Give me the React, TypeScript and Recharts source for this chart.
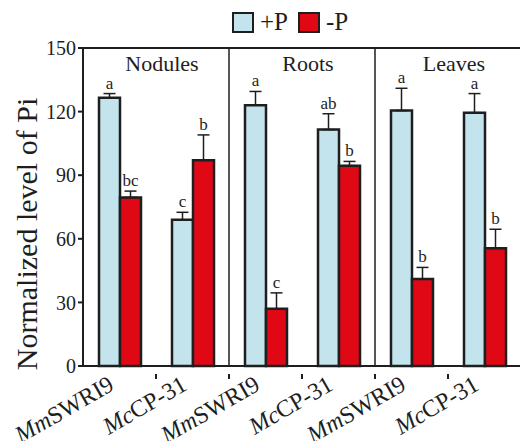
import {
  Bar,
  BarChart,
  ErrorBar,
  LabelList,
  ReferenceLine,
  XAxis,
  YAxis,
} from "recharts";

const tissues = ["Nodules", "Roots", "Leaves"];
const lines = ["MmSWRI9", "McCP-31"];
const plusP = [126.5, 69, 123, 111.5, 120.5, 119.5];
const plusPErr = [2, 3.5, 6.5, 7.5, 10.5, 9];
const minusP = [79.5, 97, 27, 94.5, 41, 55.5];
const minusPErr = [3, 12, 7.5, 2, 5.5, 9];
const plusLetters = ["a", "c", "a", "ab", "a", "a"];
const minusLetters = ["bc", "b", "c", "b", "b", "b"];
const yTicks = [0, 30, 60, 90, 120, 150];

const BLUE = "#c3e4ec";
const RED = "#e10816";
const INK = "#1e1e1e";
const FONT = "'Liberation Serif', 'Times New Roman', serif";

const keys = tissues.flatMap((t) => lines.map((l) => `${t}|${l}`));

const data = keys.map((key, i) => ({
  key,
  plus: plusP[i],
  plusErr: [0, plusPErr[i]],
  minus: minusP[i],
  minusErr: [0, minusPErr[i]],
  plusLetter: plusLetters[i],
  minusLetter: minusLetters[i],
}));

function letterRenderer(values: number[], errs: number[]) {
  return (props: any) => {
    const { x, y, width, height, value, index } = props;
    const px = Number(height) / values[index];
    const top = Number(y) - errs[index] * px;
    return (
      <text
        x={Number(x) + Number(width) / 2}
        y={top - 5}
        textAnchor="middle"
        fontSize={17}
        fontFamily={FONT}
        fill={INK}
      >
        {value}
      </text>
    );
  };
}

function CategoryTick(props: any) {
  const { x, y, payload, index, visibleTicksCount, width } = props;
  const label: string = String(payload.value).split("|")[1];
  const half = Number(width) / visibleTicksCount / 2;
  const isLast = index === visibleTicksCount - 1;
  return (
    <g>
      {!isLast && (
        <line x1={x + half} x2={x + half} y1={y} y2={y + 5} stroke={INK} strokeWidth={2} />
      )}
      <g transform={`translate(${x - 8},${y + 8}) rotate(-30)`}>
        <text textAnchor="end" fontSize={24} fontFamily={FONT} fill={INK} dy={8}>
          <tspan fontStyle="italic">{label.slice(0, 2)}</tspan>
          <tspan>{label.slice(2)}</tspan>
        </text>
      </g>
    </g>
  );
}

function LegendBox() {
  const item = (color: string, text: string) => (
    <div style={{ display: "flex", alignItems: "center", marginRight: 10 }}>
      <div style={{ width: 18, height: 17, background: color, border: `2px solid ${INK}` }} />
      <span style={{ marginLeft: 6, fontSize: 25, fontFamily: FONT, color: INK, lineHeight: "24px" }}>{text}</span>
    </div>
  );
  return (
    <div style={{ position: "absolute", left: 232, top: 10, display: "flex" }}>
      {item(BLUE, "+P")}
      {item(RED, "-P")}
    </div>
  );
}

export default function App() {
  return (
    <div style={{ position: "absolute", left: 0, top: 0, width: 520, height: 441, overflow: "hidden", background: "#fff" }}>
      <LegendBox />
      <BarChart
        width={535}
        height={441}
        data={data}
        margin={{ top: 48, right: 14, left: 0, bottom: 0 }}
        barGap={0}
        barSize={21}
      >
        <XAxis
          dataKey="key"
          axisLine={{ stroke: INK, strokeWidth: 2 }}
          tickLine={false}
          interval={0}
          tick={<CategoryTick />}
          height={75}
        />
        <YAxis
          domain={[0, 150]}
          ticks={yTicks}
          width={83}
          tickSize={5}
          tick={{ fontSize: 20, fontFamily: FONT, fill: INK }}
          tickLine={{ stroke: INK, strokeWidth: 2 }}
          axisLine={{ stroke: INK, strokeWidth: 2 }}
          label={{
            value: "Normalized level of Pi",
            angle: -90,
            position: "insideLeft",
            dx: 21,
            dy: 27,
            style: { fontSize: 30, fontFamily: FONT, fill: INK, textAnchor: "middle" },
          }}
        />
        <ReferenceLine y={150} stroke={INK} strokeWidth={2} />
        {tissues.slice(0, 2).map((t) => (
          <ReferenceLine key={t} x={`${t}|${lines[1]}`} position="end" stroke={INK} strokeWidth={1.5} />
        ))}
        {tissues.map((t) => (
          <ReferenceLine
            key={`title-${t}`}
            x={`${t}|${lines[1]}`}
            position="start"
            stroke="none"
            label={{
              value: t,
              position: "insideTop",
              dx: 6,
              dy: 2,
              style: { fontSize: 22, fontFamily: FONT, fill: INK },
            }}
          />
        ))}
        <Bar dataKey="plus" fill={BLUE} stroke={INK} strokeWidth={2.5} isAnimationActive={false}>
          <ErrorBar dataKey="plusErr" direction="y" width={6} stroke={INK} strokeWidth={1.5} />
          <LabelList dataKey="plusLetter" content={letterRenderer(plusP, plusPErr)} />
        </Bar>
        <Bar dataKey="minus" fill={RED} stroke={INK} strokeWidth={2.5} isAnimationActive={false}>
          <ErrorBar dataKey="minusErr" direction="y" width={6} stroke={INK} strokeWidth={1.5} />
          <LabelList dataKey="minusLetter" content={letterRenderer(minusP, minusPErr)} />
        </Bar>
      </BarChart>
    </div>
  );
}
